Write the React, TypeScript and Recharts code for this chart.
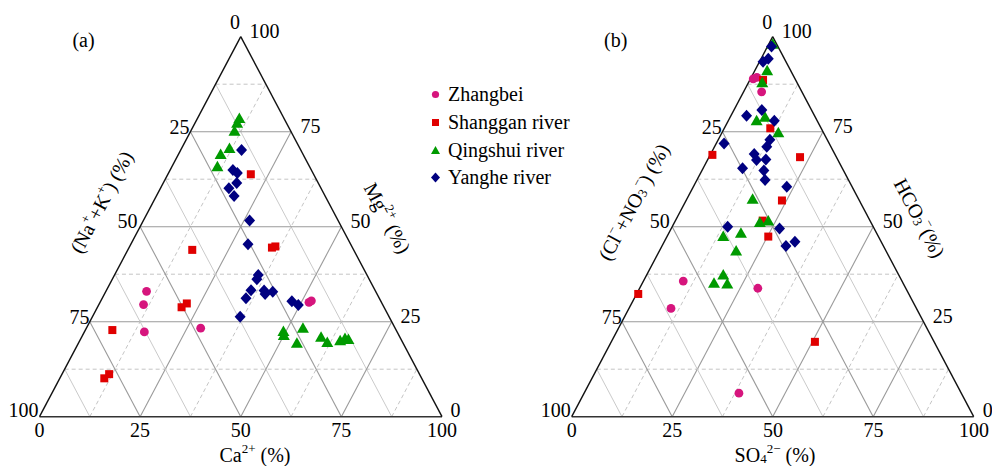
import React from "react";
import { ScatterChart, Scatter, XAxis, YAxis, ReferenceLine } from "recharts";

const SERIES = ["Zhangbei", "Shanggan river", "Qingshui river", "Yanghe river"];
const COLORS = ["#d6157d", "#e00000", "#009a00", "#000080"];
const FONT = "Liberation Serif, Tinos, DejaVu Serif, serif";

// (a) cations: [Ca2+ %, Mg2+ %]; Na+ + K+ = 100 - Ca - Mg
const zhangbeiA = [[10.1, 33.0], [11.1, 29.5], [14.9, 22.3], [28.4, 23.3], [51.9, 30.1], [52.3, 30.5]];
const shangganA = [[20.6, 63.8], [16.0, 43.9], [21.7, 29.8], [20.9, 28.8], [6.7, 22.8], [11.7, 11.2], [11.05, 10.1], [35.5, 44.5], [36.2, 44.8]];
const qingshuiA = [[10.4, 78.5], [10.5, 77.2], [10.9, 75.1], [11.9, 70.6], [10.5, 69.0], [11.3, 65.8], [49.4, 22.4], [50.0, 21.4], [53.8, 23.3], [54.3, 19.3], [59.5, 20.9], [61.75, 19.5], [64.7, 20.0], [65.6, 20.6], [66.6, 20.3]];
const yangheA = [[15.1, 70.2], [15.6, 64.9], [17.1, 64.1], [18.25, 61.5], [17.0, 60.1], [19.3, 58.1], [26.4, 51.6], [29.1, 45.4], [35.7, 37.3], [35.9, 36.2], [35.9, 33.3], [39.2, 33.2], [39.9, 32.3], [41.5, 32.9], [35.7, 31.2], [36.7, 26.3], [47.5, 30.4], [49.6, 29.4]];

// (b) anions: [SO4 2- %, HCO3- %]; Cl- + NO3- = 100 - SO4 - HCO3
const zhangbeiB = [[0.7, 88.9], [1.4, 89.3], [4.5, 85.5], [9.9, 35.7], [10.45, 28.5], [29.4, 33.8], [38.5, 6.2]];
const shangganB = [[3.3, 88.6], [11.45, 75.9], [0.55, 68.9], [22.65, 68.3], [23.85, 56.9], [21.7, 51.6], [25.2, 47.4], [0.4, 32.3], [50.65, 19.7]];
const qingshuiB = [[1.0, 98.0], [3.1, 91.05], [3.45, 87.9], [7.05, 77.9], [8.7, 78.8], [14.05, 74.7], [16.4, 57.2], [21.25, 51.1], [23.15, 51.5], [14.0, 47.4], [17.95, 48.3], [19.1, 43.6], [19.05, 37.3], [17.85, 35.1], [21.25, 34.9]];
const yangheB = [[1.0, 97.4], [1.8, 94.2], [0.9, 93.4], [6.95, 80.7], [3.9, 79.2], [11.45, 77.9], [12.85, 72.9], [13.0, 71.05], [10.85, 69.1], [12.2, 67.55], [14.45, 67.7], [1.95, 71.9], [9.8, 65.4], [15.4, 64.8], [16.95, 62.3], [23.25, 60.5], [13.8, 50.0], [26.95, 49.5], [30.85, 44.9], [32.5, 46.05]];

const gridSteps = [12.5, 25, 37.5, 50, 62.5, 75, 87.5];
const tickLabels = ["0", "25", "50", "75", "100"];

// bottom component b, top component t -> cartesian in triangle
const toXY = (pts: number[][]) => pts.map(([b, t]) => ({ x: b + t / 2, y: t }));

const shapes = [
  (c: string) => (p: any) => <circle cx={p.cx} cy={p.cy} r={4.4} fill={c} />,
  (c: string) => (p: any) => <rect x={p.cx - 4} y={p.cy - 4} width={8} height={8} fill={c} />,
  (c: string) => (p: any) => (
    <polygon points={`${p.cx},${p.cy - 6} ${p.cx + 6},${p.cy + 4.5} ${p.cx - 6},${p.cy + 4.5}`} fill={c} />
  ),
  (c: string) => (p: any) => (
    <polygon points={`${p.cx},${p.cy - 6} ${p.cx + 5.5},${p.cy} ${p.cx},${p.cy + 6} ${p.cx - 5.5},${p.cy}`} fill={c} />
  ),
];

function gridLines() {
  const out: any[] = [];
  gridSteps.forEach((k, i) => {
    const major = k % 25 === 0;
    const majorStyle = { stroke: "#9a9a9a", strokeWidth: 1.1 };
    const dashStyle = { stroke: "#bdbdbd", strokeWidth: 0.9, strokeDasharray: "4 3" };
    const lightStyle = { stroke: "#cacaca", strokeWidth: 1 };
    // constant top component (horizontal)
    out.push(
      <ReferenceLine key={`h${i}`} segment={[{ x: k / 2, y: k }, { x: 100 - k / 2, y: k }]} {...(major ? majorStyle : dashStyle)} />
    );
    // constant bottom component
    out.push(
      <ReferenceLine key={`b${i}`} segment={[{ x: k, y: 0 }, { x: k + (100 - k) / 2, y: 100 - k }]} {...(major ? majorStyle : dashStyle)} />
    );
    // constant left component
    out.push(
      <ReferenceLine key={`l${i}`} segment={[{ x: 100 - k, y: 0 }, { x: (100 - k) / 2, y: 100 - k }]} {...(major ? majorStyle : lightStyle)} />
    );
  });
  return out;
}

function Panel({ left, ox, width, data }: { left: number; ox: number; width: number; data: number[][][] }) {
  return (
    <div style={{ position: "absolute", left, top: 0 }}>
      <ScatterChart
        width={496}
        height={466}
        margin={{ top: 36.7, bottom: 466 - 416.7, left: ox - left, right: left + 496 - (ox + width) }}
      >
        <XAxis type="number" dataKey="x" domain={[0, 100]} hide />
        <YAxis type="number" dataKey="y" domain={[0, 100]} hide />
        {gridLines()}
        <ReferenceLine segment={[{ x: 0, y: 0 }, { x: 100, y: 0 }]} stroke="#333" strokeWidth={1.4} />
        <ReferenceLine segment={[{ x: 0, y: 0 }, { x: 50, y: 100 }]} stroke="#111" strokeWidth={1.4} />
        <ReferenceLine segment={[{ x: 100, y: 0 }, { x: 50, y: 100 }]} stroke="#111" strokeWidth={1.4} />
        {data.map((pts, i) => (
          <Scatter key={SERIES[i]} name={SERIES[i]} data={toXY(pts)} shape={shapes[i](COLORS[i])} isAnimationActive={false} />
        ))}
      </ScatterChart>
    </div>
  );
}

const sup = (s: string) => (
  <tspan baselineShift={7} fontSize={13}>
    {s}
  </tspan>
);
const sub = (s: string) => (
  <tspan baselineShift={-3} fontSize={13}>
    {s}
  </tspan>
);
// reset baseline after a shifted run
const sp = (s: string) => <tspan>{s}</tspan>;

function Labels({ ox, tag, leftTitle, rightTitle, bottomTitle, bottomX }: any) {
  const t = (x: number, y: number, s: string, k: string) => (
    <text key={k} x={x} y={y} textAnchor="middle" dominantBaseline="central">
      {s}
    </text>
  );
  return (
    <g>
      {t(ox + 195.5, 21.5, "0", "top0")}
      {t(ox + 225, 31, "100", "top100")}
      {t(ox + 271, 126, "75", "r75")}
      {t(ox + 321, 221, "50", "r50")}
      {t(ox + 371, 316, "25", "r25")}
      {t(ox + 416, 410, "0", "r0")}
      {t(ox + 140, 127, "25", "l25")}
      {t(ox + 88, 221, "50", "l50")}
      {t(ox + 40, 317, "75", "l75")}
      {t(ox - 16, 410, "100", "l100")}
      {tickLabels.map((s, i) => t(ox + 100.6 * i, 430, s, `b${i}`))}
      {t(ox + 44, 40, tag, "tag")}
      <text x={bottomX} y={455} textAnchor="middle" dominantBaseline="central">
        {bottomTitle}
      </text>
      <text x={ox + 62} y={202} textAnchor="middle" dominantBaseline="central" transform={`rotate(-62 ${ox + 62} ${202})`}>
        {leftTitle}
      </text>
      <text x={ox + 348} y={218} textAnchor="middle" dominantBaseline="central" transform={`rotate(62 ${ox + 348} ${218})`}>
        {rightTitle}
      </text>
    </g>
  );
}

function LegendBox() {
  return (
    <div style={{ position: "absolute", left: 429, top: 81, fontFamily: FONT, fontSize: 20, color: "#000" }}>
      {SERIES.map((name, i) => (
        <div key={name} style={{ display: "flex", alignItems: "center", height: 27.7 }}>
          <svg width={13} height={13} style={{ marginRight: 6 }}>
            {i === 0 && <circle cx={6.5} cy={6.5} r={3.6} fill={COLORS[i]} />}
            {i === 1 && <rect x={3} y={3} width={7} height={7} fill={COLORS[i]} />}
            {i === 2 && <polygon points="6.5,2 11,10 2,10" fill={COLORS[i]} />}
            {i === 3 && <polygon points="6.5,1.5 11,6.5 6.5,11.5 2,6.5" fill={COLORS[i]} />}
          </svg>
          <span>{name}</span>
        </div>
      ))}
    </div>
  );
}

export default function App() {
  return (
    <div style={{ position: "absolute", left: 0, top: 0, width: 992, height: 466, background: "#fff", fontFamily: FONT }}>
      <Panel left={0} ox={39.5} width={402.5} data={[zhangbeiA, shangganA, qingshuiA, yangheA]} />
      <Panel left={496} ox={571.7} width={402} data={[zhangbeiB, shangganB, qingshuiB, yangheB]} />
      <svg
        width={992}
        height={466}
        style={{ position: "absolute", left: 0, top: 0, pointerEvents: "none", fontFamily: FONT, fontSize: 20 }}
      >
        <Labels
          ox={39.5}
          tag="(a)"
          bottomX={255}
          bottomTitle={<>Ca{sup("2+")}{sp(" (%)")}</>}
          leftTitle={<>(Na{sup("+")}{sp("+K")}{sup("+")}{sp(") (%)")}</>}
          rightTitle={<>Mg{sup("2+")}{sp(" (%)")}</>}
        />
        <Labels
          ox={571.7}
          tag="(b)"
          bottomX={775}
          bottomTitle={<>SO{sub("4")}{sup("2−")}{sp(" (%)")}</>}
          leftTitle={<>(Cl{sup("−")}{sp("+NO")}{sub("3")}{sup("−")}{sp(") (%)")}</>}
          rightTitle={<>HCO{sub("3")}{sup("−")}{sp("(%)")}</>}
        />
      </svg>
      <LegendBox />
    </div>
  );
}
